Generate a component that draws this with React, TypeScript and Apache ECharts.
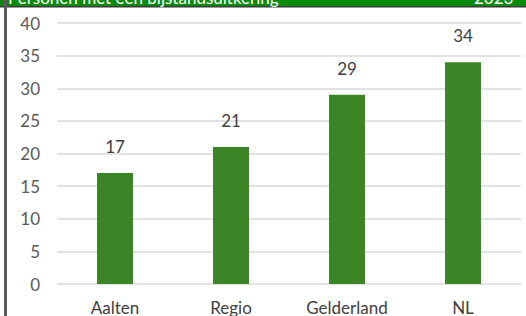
import React, { useEffect, useRef } from "react";
import * as echarts from "echarts";

const categories = ["Aalten", "Regio", "Gelderland", "NL"];
const values = [17, 21, 29, 34];
const yTicks = [0, 5, 10, 15, 20, 25, 30, 35, 40];

export default function App() {
  const ref = useRef<HTMLDivElement>(null);
  useEffect(() => {
    if (!ref.current) return;
    const chart = echarts.init(ref.current, undefined, { renderer: "svg" });
    chart.setOption({
      animation: false,
      backgroundColor: "#ffffff",
      textStyle: { fontFamily: "Lato" },
      grid: { left: 57, right: 5, top: 23, height: 266, containLabel: false },
      graphic: [
        { type: "rect", shape: { x: 0, y: 0, width: 526, height: 6 }, style: { fill: "#0a8a0a" }, z: 10 },
        { type: "rect", shape: { x: 0, y: 6, width: 526, height: 1.5 }, style: { fill: "#3a3a3a" }, z: 10 },
        { type: "rect", shape: { x: 4, y: 0, width: 3, height: 316 }, style: { fill: "#5a5a5a" }, z: 10 },
        {
          type: "text", x: 8, y: -11, z: 11,
          style: { text: "Personen met een bijstandsuitkering", fill: "#ffffff", font: "17px Lato" },
        },
        {
          type: "text", x: 474, y: -11, z: 11,
          style: { text: "2023", fill: "#ffffff", font: "17px Lato" },
        },
      ],
      xAxis: {
        type: "category",
        data: categories,
        axisLine: { show: false },
        axisTick: { show: false },
        axisLabel: { color: "#404040", fontSize: 17, margin: 15 },
      },
      yAxis: {
        type: "value",
        min: yTicks[0],
        max: yTicks[yTicks.length - 1],
        interval: 5,
        axisLine: { show: false },
        axisTick: { show: false },
        axisLabel: { color: "#595959", fontSize: 17, margin: 17 },
        splitLine: { lineStyle: { color: "#d9d9d9", width: 1.5 } },
      },
      series: [
        {
          type: "bar",
          data: values,
          barWidth: 36,
          itemStyle: { color: "#3b8527" },
          label: { show: true, position: "top", distance: 18, color: "#404040", fontSize: 17 },
        },
      ],
    });
    return () => chart.dispose();
  }, []);
  return (
    <div
      ref={ref}
      style={{ position: "fixed", left: 0, top: 0, width: 526, height: 316 }}
    />
  );
}
